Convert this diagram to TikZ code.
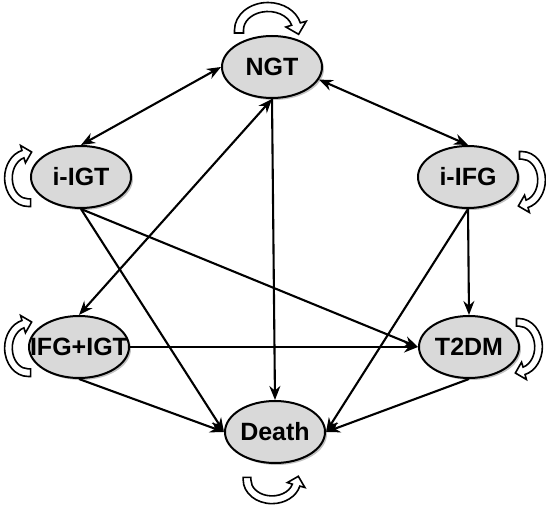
\documentclass[tikz,border=0pt]{standalone}
\usepackage{fontspec}
\setmainfont{Liberation Sans}
\usetikzlibrary{arrows.meta,shapes.geometric,shadows}
\newcommand{\ntext}[1]{\makebox[0pt]{#1}}
\tikzset{
  state/.style={ellipse, draw, line width=2pt, fill=black!15,
    minimum width=100pt, minimum height=62pt, inner sep=0pt,
    font=\fontsize{25}{29}\selectfont\bfseries,
    drop shadow={shadow xshift=2pt, shadow yshift=-2pt, fill=black!30, opacity=0.8}},
  link/.style={line width=2.1pt, -{Stealth[length=14pt,width=11pt]}},
  blink/.style={line width=2.1pt, {Stealth[length=14pt,width=11pt]}-{Stealth[length=14pt,width=11pt]}},
  loopar/.style={draw, fill=white, line width=1.6pt, line join=miter},
  selfloop/.pic={
    \draw[loopar] (-33.5,-3) -- (-33.5,0)
      arc[start angle=180, end angle=15, x radius=33.5, y radius=27.5]
      -- (38.2,8.7) -- (30.6,-4.3) -- (17.9,3.0) -- (23.67,4.8)
      arc[start angle=15, end angle=180, x radius=24.5, y radius=18.5]
      -- (-24.5,-3) -- cycle;
  }
}
\begin{document}
\begin{tikzpicture}[x=1pt,y=1pt]
\useasboundingbox (0,0) rectangle (546,506);

\node[state] (NGT)   at (272,439) {\ntext{NGT}};
\node[state] (iIGT)  at (81,329)  {\ntext{i-IGT}};
\node[state] (iIFG)  at (468,329) {\ntext{i-IFG}};
\node[state] (IFG)   at (79,159)  {\ntext{IFG+IGT}};
\node[state] (T2DM)  at (469,159) {\ntext{T2DM}};
\node[state] (Death) at (275,74)  {\ntext{Death}};

\draw[blink] (NGT.west) -- (iIGT.north);
\draw[blink] (NGT.345) -- (iIFG.north);
\draw[blink] (NGT.south) -- (IFG.north);
\draw[link] (NGT.south) -- (Death.north);
\draw[link] (iIGT.south) -- (Death.west);
\draw[link] (iIGT.south) -- (T2DM.west);
\draw[link] (iIFG.south) -- (T2DM.north);
\draw[link] (iIFG.south) -- (Death.east);
\draw[link] (IFG.east) -- (T2DM.west);
\draw[link] (IFG.south) -- (Death.west);
\draw[link] (T2DM.south) -- (Death.east);

\begin{scope}[shift={(268,476)}, transform shape] \pic {selfloop}; \end{scope}
\begin{scope}[shift={(272,26)}, xscale=0.86, yscale=-0.86, transform shape] \pic {selfloop}; \end{scope}
\begin{scope}[shift={(28,328)}, rotate=90, scale=0.85, transform shape] \pic {selfloop}; \end{scope}
\begin{scope}[shift={(28,158)}, rotate=90, scale=0.85, transform shape] \pic {selfloop}; \end{scope}
\begin{scope}[shift={(522,326)}, rotate=-90, scale=0.85, transform shape] \pic {selfloop}; \end{scope}
\begin{scope}[shift={(519,159)}, rotate=-90, scale=0.85, transform shape] \pic {selfloop}; \end{scope}
\end{tikzpicture}
\end{document}
